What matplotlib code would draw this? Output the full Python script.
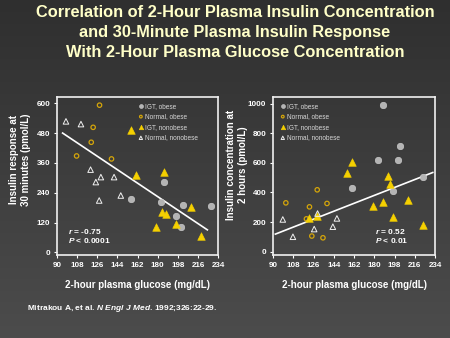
import numpy as np
import matplotlib
matplotlib.use("Agg")
import matplotlib.pyplot as plt

plt.rcParams['font.family'] = ['Liberation Sans', 'DejaVu Sans']
plt.rcParams['mathtext.fontset'] = 'custom'
plt.rcParams['mathtext.rm'] = 'Liberation Sans:bold'
plt.rcParams['mathtext.it'] = 'Liberation Sans:italic:bold'

# --- left panel: 30-minute insulin response (pmol/L) vs 2-h glucose (mg/dL)
l_igt_obese_x = [156.5, 185.5, 183.2, 202.5, 196.5, 201.0, 227.4]
l_igt_obese_y = [213, 284, 204, 189, 145, 103, 187]
l_norm_obese_x = [128.0, 122.3, 120.6, 107.5, 138.7]
l_norm_obese_y = [592, 503, 443, 388, 376]
l_igt_nonob_x = [156.5, 160.6, 185.8, 183.5, 187.7, 178.7, 196.5, 210.2, 218.8]
l_igt_nonob_y = [492, 313, 325, 163, 153, 101, 115, 184, 65]
l_norm_nonob_x = [98.0, 111.4, 120.0, 124.7, 129.2, 127.7, 141.0, 147.0]
l_norm_nonob_y = [527, 516, 333, 283, 303, 209, 303, 229]
l_fit_x = [95, 224.4]
l_fit_y = [480, 91]

# --- right panel: 2-hour insulin concentration (pmol/L) vs 2-h glucose
r_igt_obese_x = [187.6, 183.1, 202.6, 200.8, 160.0, 196.6, 223.6]
r_igt_obese_y = [989, 618, 712, 618, 427, 409, 506]
r_norm_obese_x = [101.4, 129.3, 122.4, 138.0, 119.7, 124.5, 134.4]
r_norm_obese_y = [330, 418, 303, 326, 222, 106, 94]
r_igt_nonob_x = [160.6, 156.0, 191.8, 193.9, 178.6, 187.9, 210.1, 196.6, 223.6, 122.0, 129.3]
r_igt_nonob_y = [607, 530, 510, 458, 308, 333, 348, 236, 180, 225, 240]
r_norm_nonob_x = [98.7, 107.7, 126.6, 129.6, 143.2, 146.8]
r_norm_nonob_y = [218, 101, 153, 258, 169, 225]
r_fit_x = [92.1, 232]
r_fit_y = [119, 535]

x_ticks = [90, 108, 126, 144, 162, 180, 198, 216, 234]
l_y_ticks = [0, 120, 240, 360, 480, 600]
r_y_ticks = [0, 200, 400, 600, 800, 1000]

fig = plt.figure(figsize=(4.5, 3.38), dpi=100)

# dark gradient slide background
bg = fig.add_axes([0, 0, 1, 1], zorder=-10)
grad = np.linspace(0, 1, 256).reshape(-1, 1)
bg.imshow(grad, aspect='auto', cmap=matplotlib.colors.LinearSegmentedColormap.from_list(
    'bg', ['#2f2f2f', '#4c4c4c']), extent=[0, 1, 0, 1], origin='upper')
bg.axis('off')

fig.text(0.522, 0.985, "Correlation of 2-Hour Plasma Insulin Concentration\n"
         "and 30-Minute Plasma Insulin Response\n"
         "With 2-Hour Plasma Glucose Concentration",
         ha='center', va='top', fontsize=11.8, fontweight='bold',
         color='#ffffc8', linespacing=1.4)


def panel(ax, ox, oy, nx, ny, gx, gy, wx, wy, fx, fy, yticks, ylim, leg_x):
    ax.set_facecolor('none')
    ax.scatter(ox, oy, s=22, marker='o', color='#b4b4b4', edgecolors='#d0d0d0',
               linewidths=0.4, label='IGT, obese', zorder=3)
    ax.scatter(nx, ny, s=10, marker='o', facecolors='none', edgecolors='#d4a50a',
               linewidths=0.9, label='Normal, obese', zorder=3)
    ax.scatter(gx, gy, s=30, marker='^', color='#f5d000', edgecolors='#f5d000',
               linewidths=0.4, label='IGT, nonobese', zorder=3)
    ax.scatter(wx, wy, s=16, marker='^', facecolors='none', edgecolors='#f0f0f0',
               linewidths=0.7, label='Normal, nonobese', zorder=3)
    ax.plot(fx, fy, color='white', lw=1.2, zorder=2)
    ax.set_xlim(90, 234)
    ax.set_ylim(*ylim)
    ax.set_xticks(x_ticks)
    ax.set_yticks(yticks)
    for s in ax.spines.values():
        s.set_color('#f0f0f0')
        s.set_linewidth(1.2)
    ax.tick_params(colors='white', labelsize=5.8, length=2, width=0.8, pad=3)
    for lab in ax.get_xticklabels() + ax.get_yticklabels():
        lab.set_fontweight('bold')
    leg = ax.legend(loc='upper left', bbox_to_anchor=(leg_x, 0.98), frameon=False,
                    fontsize=4.7, handletextpad=0.1, labelspacing=0.55,
                    borderaxespad=0, handlelength=1.2, markerscale=0.6)
    for t in leg.get_texts():
        t.set_color('#d8d8d8')
    ax.set_xlabel('2-hour plasma glucose (mg/dL)', color='white', fontsize=7,
                  fontweight='bold', labelpad=8)


ax1 = fig.add_axes([0.1267, 0.2456, 0.358, 0.4675])
panel(ax1, l_igt_obese_x, l_igt_obese_y, l_norm_obese_x, l_norm_obese_y,
      l_igt_nonob_x, l_igt_nonob_y, l_norm_nonob_x, l_norm_nonob_y,
      l_fit_x, l_fit_y, l_y_ticks, (-10, 625), 0.48)
ax1.text(100, 83, r"$r$ = -0.75", color='white', fontsize=6, fontweight='bold', va='center')
ax1.text(100, 47, r"$P$ < 0.0001", color='white', fontsize=6, fontweight='bold', va='center')

ax2 = fig.add_axes([0.6067, 0.2456, 0.36, 0.4675])
panel(ax2, r_igt_obese_x, r_igt_obese_y, r_norm_obese_x, r_norm_obese_y,
      r_igt_nonob_x, r_igt_nonob_y, r_norm_nonob_x, r_norm_nonob_y,
      r_fit_x, r_fit_y, r_y_ticks, (-22, 1045), 0.02)
ax2.text(180.7, 135, r"$r$ = 0.52", color='white', fontsize=6, fontweight='bold', va='center')
ax2.text(180.7, 74, r"$P$ < 0.01", color='white', fontsize=6, fontweight='bold', va='center')

fig.text(20 / 450, 1 - 160 / 338, "Insulin response at\n30 minutes (pmol/L)", rotation=90,
         ha='center', va='center', color='white', fontsize=7, fontweight='bold',
         linespacing=1.3)
fig.text(237 / 450, 1 - 165 / 338, "Insulin concentration at\n2 hours (pmol/L)", rotation=90,
         ha='center', va='center', color='white', fontsize=7, fontweight='bold',
         linespacing=1.3)

fig.text(27 / 450, 1 - 309 / 338, r"Mitrakou A, et al. $N\ Engl\ J\ Med$. 1992;326:22-29.",
         color='white', fontsize=6, fontweight='bold', va='center')

fig.savefig('out.png', dpi=100)
